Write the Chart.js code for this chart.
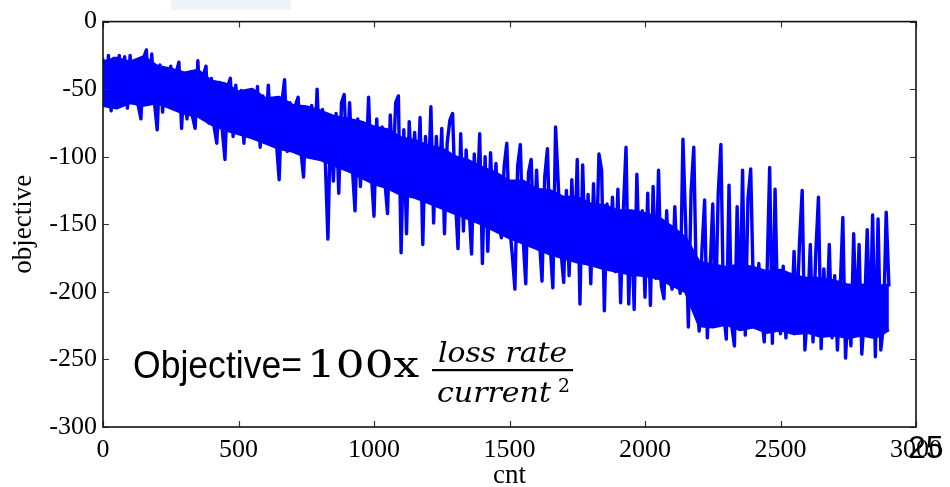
<!DOCTYPE html>
<html>
<head>
<meta charset="utf-8">
<script src="https://cdn.jsdelivr.net/npm/chart.js@4.4.1/dist/chart.umd.min.js"></script>
<style>
html,body{margin:0;padding:0;background:#fff;}
#wrap{position:relative;width:950px;height:487px;}
</style>
</head>
<body>
<div id="wrap"><canvas id="c" width="950" height="487"></canvas></div>
<script>
// ---- data ----
const cntStep = 10;               // sample spacing of the objective trace
const objective = [
  -28,-62,-25,-66,-27,-55,-25,-58,-26,-64,
  -25,-58,-30,-62,-72,-27,-21,-55,-24,-60,
  -80,-32,-67,-35,-60,-33,-62,-38,-30,-79,
  -40,-72,-38,-70,-79,-29,-68,-40,-33,-75,
  -42,-78,-90,-45,-80,-102,-48,-42,-85,-47,
  -82,-51,-90,-55,-84,-52,-80,-48,-93,-55,
  -85,-47,-88,-58,-90,-117,-60,-43,-96,-60,
  -92,-62,-56,-95,-115,-65,-98,-62,-100,-50,
  -100,-65,-102,-161,-70,-118,-68,-127,-60,-54,
  -105,-60,-108,-140,-72,-122,-75,-110,-56,-112,
  -144,-72,-115,-78,-118,-142,-69,-112,-60,-55,
  -171,-80,-157,-74,-120,-82,-125,-71,-165,-85,
  -125,-63,-149,-85,-128,-79,-157,-90,-73,-68,
  -130,-168,-83,-155,-95,-135,-172,-98,-138,-83,
  -179,-100,-170,-97,-145,-105,-148,-160,-108,-90,
  -150,-172,-198,-107,-91,-160,-194,-112,-102,-165,
  -110,-160,-192,-115,-94,-165,-197,-78,-120,-170,
  -193,-125,-188,-117,-170,-102,-209,-106,-175,-128,
  -194,-120,-178,-98,-110,-214,-135,-180,-130,-185,
  -124,-208,-140,-93,-209,-145,-213,-113,-185,-140,
  -204,-127,-210,-122,-190,-110,-195,-205,-140,-190,
  -198,-137,-185,-201,-87,-150,-226,-126,-93,-200,
  -229,-170,-132,-234,-185,-135,-221,-128,-91,-215,
  -235,-121,-225,-240,-137,-220,-110,-232,-131,-109,
  -200,-226,-179,-215,-237,-190,-108,-238,-124,-220,
  -231,-181,-234,-195,-225,-170,-220,-164,-125,-243,
  -215,-165,-237,-172,-130,-242,-183,-225,-165,-234,
  -188,-243,-200,-145,-249,-210,-240,-157,-225,-165,
  -246,-215,-154,-230,-143,-248,-146,-243,-225,-141,
  -195
];
// dense core of the noisy trace (upper / lower edge), every 50 cnt
const coreStep = 50;
const coreUpper = [
  -30,-27,-30,-26,-33,-35,-38,-36,-44,-46,
  -52,-50,-57,-56,-62,-63,-66,-70,-72,-74,
  -78,-80,-86,-88,-92,-94,-100,-103,-108,-112,
  -118,-118,-124,-125,-130,-130,-135,-136,-140,-140,
  -142,-145,-152,-160,-178,-180,-182,-180,-182,-185,
  -184,-188,-190,-190,-192,-195,-195,-196,-195
];
const coreLower = [
  -62,-64,-60,-62,-60,-64,-68,-70,-76,-80,
  -83,-86,-90,-94,-96,-100,-102,-106,-110,-115,
  -120,-123,-128,-130,-134,-138,-142,-146,-150,-155,
  -160,-164,-168,-172,-175,-178,-180,-183,-185,-187,
  -188,-190,-195,-200,-225,-226,-224,-228,-226,-230,
  -228,-231,-230,-233,-232,-234,-232,-234,-228
];
const xTicks = [0, 500, 1000, 1500, 2000, 2500, 3000];
const yTicks = [0, -50, -100, -150, -200, -250, -300];
const xTitle = 'cnt';
const yTitle = 'objective';
const slideNumber = '25';

const points = objective.map((v, i) => ({x: i * cntStep, y: v}));
const upperPts = coreUpper.map((v, i) => ({x: i * coreStep, y: v}));
const lowerPts = coreLower.map((v, i) => ({x: i * coreStep, y: v}));

// ---- plugin: frame, inward ticks, formula annotation ----
const decor = {
  id: 'decor',
  beforeDraw(chart) {
    const ctx = chart.ctx;
    ctx.save();
    ctx.fillStyle = '#EEF5F8';
    ctx.fillRect(171, 0, 120, 10);
    ctx.restore();
  },
  afterDraw(chart) {
    const ctx = chart.ctx, a = chart.chartArea;
    const xs = chart.scales.x, ys = chart.scales.y;
    ctx.save();
    ctx.strokeStyle = '#333';
    ctx.lineWidth = 1.2;
    ctx.beginPath();
    xTicks.forEach(v => {
      const px = Math.round(xs.getPixelForValue(v)) + 0.5;
      ctx.moveTo(px, a.bottom); ctx.lineTo(px, a.bottom - 6);
      ctx.moveTo(px, a.top); ctx.lineTo(px, a.top + 6);
    });
    yTicks.forEach(v => {
      const py = Math.round(ys.getPixelForValue(v)) + 0.5;
      ctx.moveTo(a.left, py); ctx.lineTo(a.left + 6, py);
      ctx.moveTo(a.right, py); ctx.lineTo(a.right - 6, py);
    });
    ctx.stroke();
    ctx.strokeStyle = '#111';
    ctx.lineWidth = 1.6;
    ctx.strokeRect(a.left, a.top, a.right - a.left, a.bottom - a.top);

    ctx.fillStyle = '#000';
    ctx.textBaseline = 'alphabetic';
    function fitText(txt, font, x, base, w) {
      ctx.font = font;
      const m = ctx.measureText(txt).width;
      ctx.save();
      ctx.translate(x, base);
      ctx.scale(w / m, 1);
      ctx.fillText(txt, 0, 0);
      ctx.restore();
    }
    fitText('Objective=', '38px "Liberation Sans", Arial, sans-serif', 133, 378, 169);
    fitText('100x', '37px "DejaVu Serif", serif', 307, 377, 112);
    ctx.fillRect(432, 369, 141, 2.2);
    fitText('loss rate', 'italic 28px "DejaVu Serif", serif', 438, 362, 129);
    fitText('current', 'italic 28px "DejaVu Serif", serif', 437, 402, 114);
    fitText('2', '18px "DejaVu Serif", serif', 558, 392, 12);
    ctx.font = '32px "Liberation Sans", Arial, sans-serif';
    ctx.fillText(slideNumber, 908, 458);
    ctx.restore();
  }
};

const tickFont = {family: '"Liberation Serif", "Times New Roman", serif', size: 26};
const blue = '#0000FF';

new Chart(document.getElementById('c'), {
  type: 'line',
  data: {
    datasets: [
      {data: points, borderColor: blue, borderWidth: 3.4, borderJoinStyle: 'round',
       borderCapStyle: 'round', pointRadius: 0, tension: 0, fill: false},
      {data: upperPts, borderColor: blue, backgroundColor: blue, borderWidth: 3,
       borderJoinStyle: 'round', pointRadius: 0, tension: 0, fill: '+1'},
      {data: lowerPts, borderColor: blue, borderWidth: 3, borderJoinStyle: 'round',
       pointRadius: 0, tension: 0, fill: false}
    ]
  },
  options: {
    responsive: false,
    animation: false,
    plugins: {legend: {display: false}, tooltip: {enabled: false}, filler: {propagate: false}},
    layout: {padding: {left: 0, top: 19, right: 29, bottom: 0}},
    scales: {
      x: {
        type: 'linear', min: 0, max: 3000,
        afterBuildTicks: s => { s.ticks = xTicks.map(v => ({value: v})); },
        afterFit: s => { s.height = 60; },
        grid: {display: false, drawTicks: false},
        border: {display: false},
        ticks: {font: tickFont, color: '#000', padding: 8, maxRotation: 0, autoSkip: false,
                callback: v => String(v)},
        title: {display: true, text: xTitle, color: '#000',
                font: {family: '"Liberation Serif", "Times New Roman", serif', size: 27, lineHeight: 0.8},
                padding: {top: 0, bottom: 0}}
      },
      y: {
        type: 'linear', min: -300, max: 0,
        afterBuildTicks: s => { s.ticks = yTicks.map(v => ({value: v})); },
        afterFit: s => { s.width = 103; },
        grid: {display: false, drawTicks: false},
        border: {display: false},
        ticks: {font: tickFont, color: '#000', padding: 6, autoSkip: false,
                callback: v => String(v)},
        title: {display: true, text: yTitle, color: '#000',
                font: {family: '"Liberation Serif", "Times New Roman", serif', size: 27, lineHeight: 1},
                padding: {top: 10, bottom: 0}}
      }
    }
  },
  plugins: [decor]
});
</script>
</body>
</html>
